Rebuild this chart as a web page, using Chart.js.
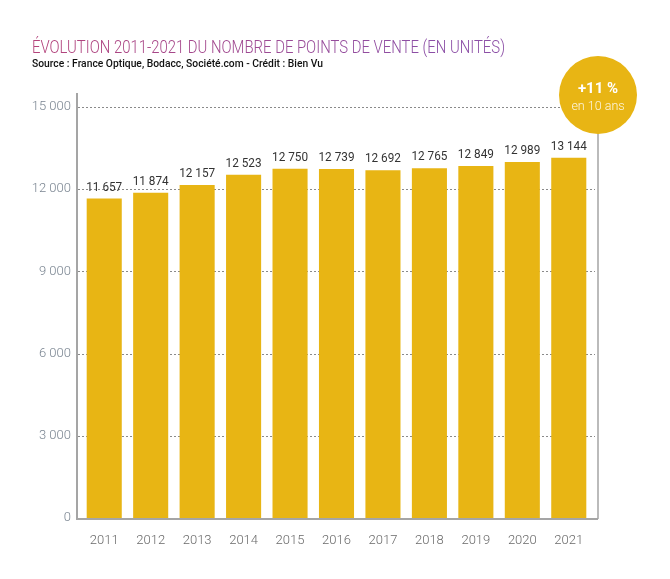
<!DOCTYPE html>
<html>
<head>
<meta charset="utf-8">
<script src="https://cdn.jsdelivr.net/npm/chart.js@4.4.1/dist/chart.umd.min.js"></script>
<style>
html,body{margin:0;padding:0;background:#fff;}
canvas{display:block;}
</style>
</head>
<body>
<canvas id="c" width="670" height="579"></canvas>
<script>
const years = ['2011','2012','2013','2014','2015','2016','2017','2018','2019','2020','2021'];
const pointsDeVente = [11657, 11874, 12157, 12523, 12750, 12739, 12692, 12765, 12849, 12989, 13144];
const yTicks = [0, 3000, 6000, 9000, 12000, 15000];
const titleText = 'ÉVOLUTION 2011-2021 DU NOMBRE DE POINTS DE VENTE (EN UNITÉS)';
const subtitleText = 'Source : France Optique, Bodacc, Société.com - Crédit : Bien Vu';
const badgeMain = '+11 %';
const badgeSub = 'en 10 ans';

const GOLD = '#e8b514';
const FONT = 'Roboto, "Open Sans", sans-serif';

function fmt(v){ return String(v).replace(/\B(?=(\d{3})+(?!\d))/g, ' '); }

const decor = {
  id: 'decor',
  beforeDatasetsDraw(chart){
    const ctx = chart.ctx, y = chart.scales.y;
    ctx.save();
    ctx.strokeStyle = '#8a8a8a';
    ctx.lineWidth = 1;
    ctx.setLineDash([2, 2]);
    yTicks.forEach(t => {
      if (t === 0) return;
      const py = Math.round(y.getPixelForValue(t)) + 0.5;
      ctx.beginPath();
      ctx.moveTo(78, py);
      ctx.lineTo(t === 15000 ? 560 : 595, py);
      ctx.stroke();
    });
    ctx.restore();
  },
  afterDatasetsDraw(chart){
    const ctx = chart.ctx, y = chart.scales.y;
    const meta = chart.getDatasetMeta(0);
    ctx.save();
    // value labels
    ctx.fillStyle = '#333333';
    ctx.font = '400 13.5px ' + FONT;
    ctx.textAlign = 'center';
    ctx.textBaseline = 'alphabetic';
    meta.data.forEach((bar, i) => {
      ctx.fillText(fmt(pointsDeVente[i]), bar.x, bar.y - 8, 36);
    });
    // axes lines
    const base = y.getPixelForValue(0);
    ctx.strokeStyle = '#a5a5a5';
    ctx.lineWidth = 2;
    ctx.beginPath();
    ctx.moveTo(77, 93);
    ctx.lineTo(77, base + 1);
    ctx.lineTo(598, base + 1);
    ctx.stroke();
    ctx.lineWidth = 1.5;
    ctx.beginPath();
    ctx.moveTo(598, 130);
    ctx.lineTo(598, base + 1);
    ctx.stroke();
    // badge
    ctx.fillStyle = GOLD;
    ctx.beginPath();
    ctx.arc(598, 95, 39, 0, Math.PI * 2);
    ctx.fill();
    ctx.fillStyle = '#ffffff';
    ctx.font = 'bold 15px ' + FONT;
    ctx.fillText(badgeMain, 598, 93);
    ctx.fillStyle = 'rgba(255,255,255,0.88)';
    ctx.font = '300 12.5px ' + FONT;
    ctx.fillText(badgeSub, 598, 110);
    // titles
    ctx.textAlign = 'left';
    const g = ctx.createLinearGradient(32, 0, 505, 0);
    g.addColorStop(0, '#b5437a');
    g.addColorStop(1, '#8c4fa6');
    ctx.fillStyle = g;
    ctx.font = '300 17.5px ' + FONT;
    ctx.fillText(titleText, 32, 53, 473);
    ctx.fillStyle = '#111111';
    ctx.font = '500 11px ' + FONT;
    ctx.fillText(subtitleText, 32, 67, 291);
    ctx.restore();
  }
};

new Chart(document.getElementById('c'), {
  type: 'bar',
  data: {
    labels: years,
    datasets: [{
      data: pointsDeVente,
      backgroundColor: GOLD,
      borderWidth: 0,
      barPercentage: 0.755,
      categoryPercentage: 1
    }]
  },
  options: {
    responsive: false,
    animation: false,
    devicePixelRatio: 1,
    layout: { padding: { left: 0, right: 78, top: 107, bottom: 0 } },
    plugins: { legend: { display: false }, tooltip: { enabled: false }, title: { display: false } },
    scales: {
      x: {
        grid: { display: false, drawTicks: false },
        border: { display: false },
        ticks: { color: '#6a6a6a', font: { family: FONT, size: 13, weight: '300' }, padding: 15, maxRotation: 0 },
        afterFit(scale){ scale.height = 61; }
      },
      y: {
        min: 0, max: 15000,
        afterBuildTicks(scale){ scale.ticks = yTicks.map(v => ({ value: v })); },
        grid: { display: false, drawTicks: false },
        border: { display: false },
        ticks: { color: '#7a8591', font: { family: FONT, size: 13, weight: '300' }, padding: 10, callback: v => fmt(v) },
        afterFit(scale){ scale.width = 81; }
      }
    }
  },
  plugins: [decor]
});
</script>
</body>
</html>
